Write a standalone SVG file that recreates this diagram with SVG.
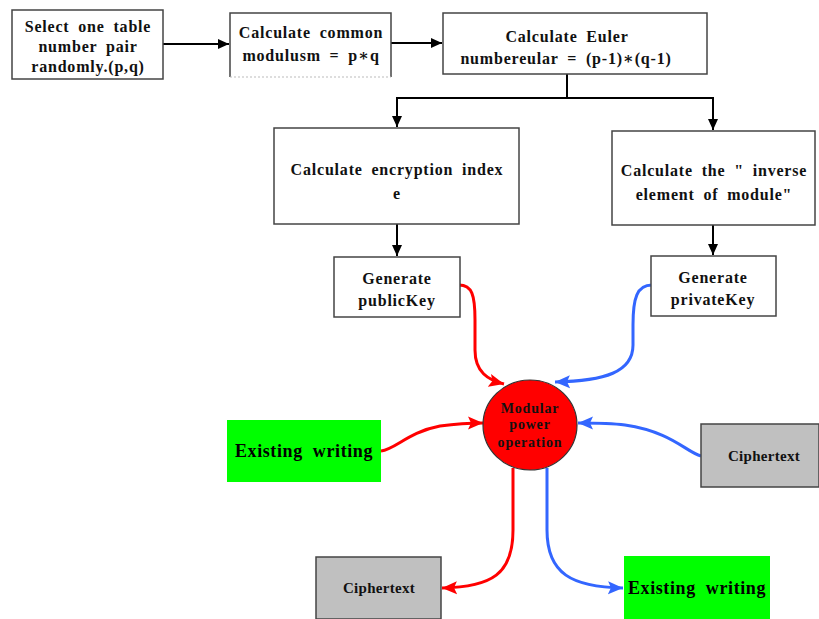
<svg xmlns="http://www.w3.org/2000/svg" width="819" height="619" viewBox="0 0 819 619">
<style>
text{font-family:"Liberation Serif","Times New Roman",Tinos,"DejaVu Serif",serif;font-weight:bold;fill:#111;text-anchor:middle}
.t{font-size:16px;letter-spacing:0.8px;word-spacing:4px}
.box{fill:#fff;stroke:#444;stroke-width:1.5}
.gray{fill:#c0c0c0;stroke:#444;stroke-width:1.5}
.green{fill:#00ff00;stroke:none}
.k{fill:none;stroke:#000;stroke-width:2}
.r{fill:none;stroke:#ff0000;stroke-width:3}
.b{fill:none;stroke:#3366ff;stroke-width:3}
</style>
<defs>
<marker id="ak" markerUnits="userSpaceOnUse" markerWidth="12" markerHeight="12" viewBox="0 0 12 12" refX="11" refY="6" orient="auto"><path d="M0,1 L11,6 L0,11 Z" fill="#000"/></marker>
<marker id="ar" markerUnits="userSpaceOnUse" markerWidth="16" markerHeight="14" viewBox="0 0 16 14" refX="15" refY="7" orient="auto"><path d="M0,0.5 L15,7 L0,13.5 L3,7 Z" fill="#ff0000"/></marker>
<marker id="ab" markerUnits="userSpaceOnUse" markerWidth="16" markerHeight="14" viewBox="0 0 16 14" refX="15" refY="7" orient="auto"><path d="M0,0.5 L15,7 L0,13.5 L3,7 Z" fill="#3366ff"/></marker>
</defs>
<rect width="819" height="619" fill="#fff"/>
<g id="connectors">
<path class="k" d="M163,44 L229,44" marker-end="url(#ak)"/>
<path class="k" d="M391,43 L442,43" marker-end="url(#ak)"/>
<path class="k" d="M567,74 L567,98 M396,98 L714,98"/>
<path class="k" d="M397,98 L397,127" marker-end="url(#ak)"/>
<path class="k" d="M713,98 L713,130" marker-end="url(#ak)"/>
<path class="k" d="M397,224 L397,256" marker-end="url(#ak)"/>
<path class="k" d="M713,225 L713,255" marker-end="url(#ak)"/>
<path class="r" d="M459,285 C472,285 475,295 475,320 L475,350 C475,372 488,380 504,384" marker-end="url(#ar)"/>
<path class="b" d="M652,285 C637,285 633,298 633,325 L633,345 C633,372 605,381 555,382" marker-end="url(#ab)"/>
<path class="r" d="M381,451 C396,449 408,432 440,426 C455,424 468,423 483,423" marker-end="url(#ar)"/>
<path class="b" d="M701,456 C686,452 672,432 625,425 C610,423 595,423 578,423" marker-end="url(#ab)"/>
<path class="r" d="M513,468 L513,530 C513,574 492,587 442,588" marker-end="url(#ar)"/>
<path class="b" d="M547,468 L547,530 C547,574 572,587 623,588" marker-end="url(#ab)"/>
</g>
<g id="select-pair">
<rect class="box" x="12" y="10" width="151" height="69"/>
<text class="t" x="88" y="32">Select one table</text>
<text class="t" x="88" y="52">number pair</text>
<text class="t" x="88" y="72">randomly.(p,q)</text>
</g>
<g id="common-modulus">
<path d="M230,77 L230,13 L391,13 L391,77" fill="#fff" stroke="#444" stroke-width="1.5"/>
<path d="M230,77 L391,77" stroke="#bbb" stroke-width="1" stroke-dasharray="2,2"/>
<text class="t" x="311" y="38">Calculate  common</text>
<text class="t" x="311" y="61">modulusm = p∗q</text>
</g>
<g id="euler">
<rect class="box" x="443" y="13" width="264" height="61"/>
<text class="t" x="567" y="42">Calculate  Euler</text>
<text class="t" x="566" y="64">numbereular = (p-1)∗(q-1)</text>
</g>
<g id="encryption-index">
<rect class="box" x="274" y="128" width="245" height="96"/>
<text class="t" x="397" y="175">Calculate  encryption  index</text>
<text class="t" x="397" y="199">e</text>
</g>
<g id="inverse-element">
<rect class="box" x="612" y="131" width="203" height="94"/>
<text class="t" x="714" y="176">Calculate the " inverse</text>
<text class="t" x="714" y="200">element of module"</text>
</g>
<g id="public-key">
<rect class="box" x="334" y="257" width="126" height="60"/>
<text class="t" x="397" y="284">Generate</text>
<text class="t" x="397" y="306">publicKey</text>
</g>
<g id="private-key">
<rect class="box" x="651" y="256" width="125" height="60"/>
<text class="t" x="713" y="283">Generate</text>
<text class="t" x="713" y="305">privateKey</text>
</g>
<g id="modular-power">
<ellipse cx="530" cy="425" rx="47" ry="45" fill="#ff0000" stroke="#333" stroke-width="1.2"/>
<text x="530" y="413" style="font-size:14px;letter-spacing:0.8px">Modular</text>
<text x="530" y="429" style="font-size:14px;letter-spacing:0.8px">power</text>
<text x="530" y="447" style="font-size:14px;letter-spacing:0.8px">operation</text>
</g>
<g id="plaintext-in">
<rect class="green" x="227" y="420" width="154" height="62"/>
<text x="304" y="457" style="font-size:18px;letter-spacing:0.6px;word-spacing:5px;fill:#000">Existing  writing</text>
</g>
<g id="ciphertext-in">
<rect class="gray" x="701" y="424" width="118" height="63"/>
<text x="764" y="461" style="font-size:15px;letter-spacing:0.3px">Ciphertext</text>
</g>
<g id="ciphertext-out">
<rect class="gray" x="316" y="557" width="125" height="62"/>
<text x="379" y="593" style="font-size:15px;letter-spacing:0.3px">Ciphertext</text>
</g>
<g id="plaintext-out">
<rect class="green" x="624" y="556" width="146" height="63"/>
<text x="697" y="594" style="font-size:18px;letter-spacing:0.6px;word-spacing:5px;fill:#000">Existing  writing</text>
</g>
</svg>
